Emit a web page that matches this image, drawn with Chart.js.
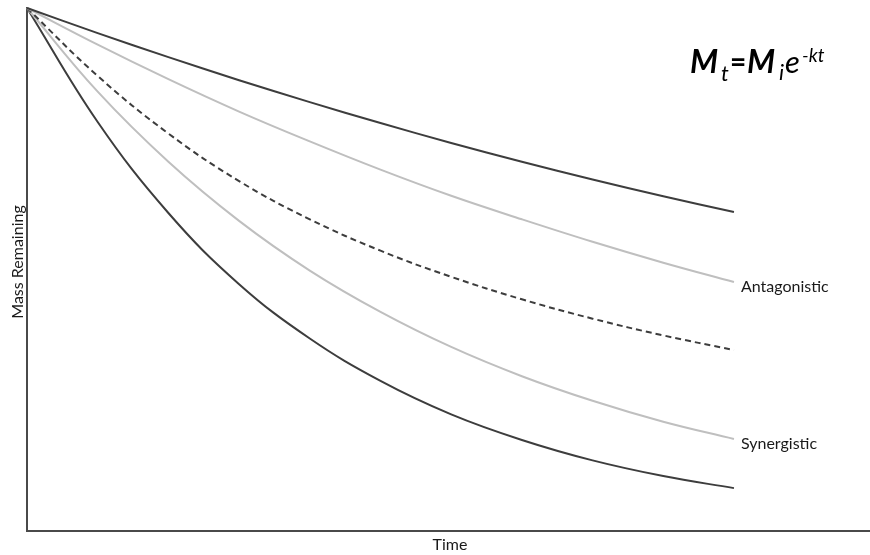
<!DOCTYPE html>
<html>
<head>
<meta charset="utf-8">
<script src="https://cdn.jsdelivr.net/npm/chart.js@4/dist/chart.umd.min.js"></script>
<style>
  html, body { margin: 0; padding: 0; background: #fff; }
  #wrap { width: 870px; height: 555px; }
</style>
</head>
<body>
<div id="wrap"><canvas id="c" width="870" height="555"></canvas></div>
<script>
// Time steps and percent of initial mass remaining for each decay curve
const times = [0, 1, 2, 3, 4, 5, 6, 7, 8, 9, 10];
const slowDecay    = [100, 95.2, 90.6, 86.2, 82.0, 78.0, 74.2, 70.6, 67.2, 64.0, 61.0];
const antagonistic = [100, 93.0, 86.4, 80.2, 74.5, 69.1, 64.1, 59.6, 55.3, 51.3, 47.6];
const additive     = [100, 87.0, 76.0, 66.9, 59.6, 53.6, 48.6, 44.3, 40.6, 37.4, 34.6];
const synergistic  = [100, 84.0, 70.6, 59.3, 49.8, 41.9, 35.2, 29.6, 24.9, 20.9, 17.6];
const fastDecay    = [100, 78.2, 60.8, 47.2, 36.8, 28.7, 22.3, 17.4, 13.5, 10.5, 8.2];

const endLabels = { 1: 'Antagonistic', 3: 'Synergistic' };
const xTitle = 'Time';
const yTitle = 'Mass Remaining';

const FONT = "Lato, 'Open Sans', 'DejaVu Sans', sans-serif";
const DARK = '#3d3d3d';
const LIGHT = '#bfbfbf';

const toPoints = arr => arr.map((v, i) => ({ x: times[i], y: v }));

function curve(values, color, dash) {
  return {
    data: toPoints(values),
    borderColor: color,
    borderWidth: 2,
    borderDash: dash || [],
    pointRadius: 0,
    fill: false,
    tension: 0.4,
    clip: false
  };
}

const annotate = {
  id: 'annotate',
  afterDraw(chart) {
    const ctx = chart.ctx;
    const area = chart.chartArea;
    ctx.save();
    ctx.fillStyle = '#1a1a1a';
    ctx.textBaseline = 'alphabetic';

    // curve end labels
    ctx.font = '16px ' + FONT;
    ctx.textAlign = 'left';
    Object.keys(endLabels).forEach(k => {
      const meta = chart.getDatasetMeta(+k);
      const pt = meta.data[meta.data.length - 1];
      ctx.fillText(endLabels[k], pt.x + 7, pt.y + 10);
    });

    // axis titles
    ctx.font = '16px ' + FONT;
    ctx.textAlign = 'center';
    ctx.fillText(xTitle, (area.left + area.right) / 2 + 2, 550);
    ctx.save();
    ctx.translate(23, 262);
    ctx.rotate(-Math.PI / 2);
    ctx.fillText(yTitle, 0, 0);
    ctx.restore();

    // decay equation
    ctx.textAlign = 'left';
    ctx.fillStyle = '#000';
    ctx.font = 'italic bold 32px ' + FONT;
    ctx.fillText('M', 690, 73);
    ctx.font = 'italic 22px ' + FONT;
    ctx.fillText('t', 721, 81);
    ctx.font = 'bold 28px ' + FONT;
    ctx.fillText('=', 730, 72);
    ctx.font = 'italic bold 32px ' + FONT;
    ctx.fillText('M', 747, 73);
    ctx.font = 'italic 22px ' + FONT;
    ctx.fillText('i', 779, 80);
    ctx.font = 'italic 31px ' + FONT;
    ctx.fillText('e', 785, 73);
    ctx.font = 'italic 19px ' + FONT;
    ctx.fillText('-kt', 802, 62);
    ctx.restore();
  }
};

new Chart(document.getElementById('c'), {
  type: 'line',
  data: {
    datasets: [
      curve(slowDecay, DARK),
      curve(antagonistic, LIGHT),
      curve(additive, DARK, [6, 4]),
      curve(synergistic, LIGHT),
      curve(fastDecay, DARK)
    ]
  },
  options: {
    responsive: false,
    animation: false,
    devicePixelRatio: 1,
    layout: { padding: { left: 27, top: 8, right: 1, bottom: 24 } },
    plugins: { legend: { display: false }, tooltip: { enabled: false }, title: { display: false } },
    scales: {
      x: {
        type: 'linear',
        min: 0,
        max: 11.91,
        grid: { display: false, drawTicks: false },
        ticks: { display: false },
        border: { display: true, color: '#4a4a4a', width: 2 }
      },
      y: {
        type: 'linear',
        min: 0,
        max: 100,
        grid: { display: false, drawTicks: false },
        ticks: { display: false },
        border: { display: true, color: '#4a4a4a', width: 2 }
      }
    }
  },
  plugins: [annotate]
});
</script>
</body>
</html>
